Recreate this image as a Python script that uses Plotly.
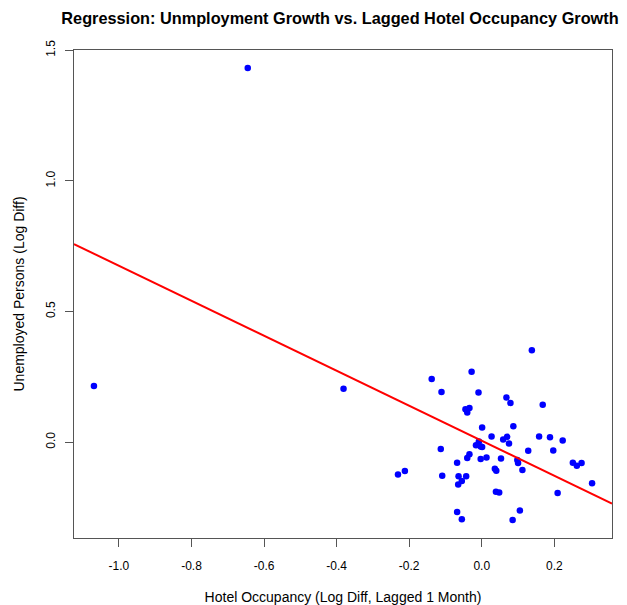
import plotly.graph_objects as go

# Hotel occupancy growth (log diff, lagged 1 month)
hotel_occ = [
    -1.069, -0.645, -0.381,
    0.138, -0.138, -0.028, -0.111, -0.009, 0.068, 0.079, 0.168, -0.045, -0.034,
    -0.040, 0.001, 0.087, 0.027, 0.059, 0.070, 0.075, 0.158, 0.188, 0.223,
    0.197, 0.128, -0.008, -0.016, -0.003, 0.001, -0.113, -0.034, -0.040,
    -0.003, 0.013, 0.053, 0.098, 0.100, -0.068, 0.036, 0.040, 0.112, 0.251,
    0.262, 0.275, 0.304, -0.231, -0.212, -0.109, -0.064, -0.043, -0.055,
    -0.065, 0.039, 0.048, 0.209, -0.068, 0.105, -0.055, 0.085,
]
# Unemployed persons growth (log diff)
unemployed = [
    0.215, 1.432, 0.204,
    0.352, 0.242, 0.269, 0.192, 0.190, 0.171, 0.150, 0.143, 0.126, 0.131,
    0.113, 0.056, 0.061, 0.021, 0.010, 0.020, -0.005, 0.021, 0.019, 0.006,
    -0.032, -0.033, 0.002, -0.012, -0.017, -0.019, -0.026, -0.047, -0.061,
    -0.065, -0.059, -0.063, -0.069, -0.080, -0.079, -0.102, -0.110, -0.107, -0.079,
    -0.091, -0.080, -0.158, -0.124, -0.111, -0.129, -0.131, -0.131, -0.149,
    -0.162, -0.190, -0.193, -0.195, -0.268, -0.262, -0.295, -0.298,
]
# Fitted regression coefficients
intercept = 0.005
slope = -0.67

x_ticks = [-1.0, -0.8, -0.6, -0.4, -0.2, 0.0, 0.2]
y_ticks = [0.0, 0.5, 1.0, 1.5]

x_min, x_max = min(hotel_occ), max(hotel_occ)
y_min, y_max = min(unemployed), max(unemployed)
xpad = 0.04 * (x_max - x_min)
ypad = 0.04 * (y_max - y_min)
x_range = [x_min - xpad, x_max + xpad]
y_range = [y_min - ypad, y_max + ypad]

fig = go.Figure()
fig.add_trace(go.Scatter(
    x=hotel_occ, y=unemployed, mode="markers",
    marker=dict(color="#0000FF", size=6.5, line=dict(width=0)),
    showlegend=False, hoverinfo="x+y",
))
fig.add_trace(go.Scatter(
    x=x_range, y=[intercept + slope * v for v in x_range], mode="lines",
    line=dict(color="#FF0000", width=2), showlegend=False, hoverinfo="skip",
))

W, H = 619, 597  # page body has an 8px margin
font = "Liberation Sans, Arial, Helvetica, sans-serif"
fig.update_layout(
    width=W, height=H,
    margin=dict(l=66, r=15, t=42, b=67, autoexpand=False),
    paper_bgcolor="white", plot_bgcolor="white",
    font=dict(family=font, size=12, color="black"),
    title=dict(
        text="<b>Regression: Unmployment Growth vs. Lagged Hotel Occupancy Growth</b>",
        x=332 / W, xanchor="center", y=1 - 10 / H, yanchor="middle",
        font=dict(size=16.3, family=font),
    ),
    xaxis=dict(
        range=x_range, tickvals=x_ticks, ticktext=[f"{v:.1f}" for v in x_ticks],
        showgrid=False, zeroline=False, showline=True, mirror=True,
        linecolor="#555555", linewidth=1, ticks="outside", ticklen=8,
        tickcolor="#555555", ticklabelstandoff=9, automargin=False,
        title=dict(text="Hotel Occupancy (Log Diff, Lagged 1 Month)", standoff=19),
    ),
    yaxis=dict(
        range=y_range, tickvals=y_ticks, ticktext=[f"{v:.1f}" for v in y_ticks],
        showgrid=False, zeroline=False, showline=True, mirror=True,
        linecolor="#555555", linewidth=1, ticks="outside", ticklen=8,
        tickcolor="#555555", tickangle=-90, ticklabelstandoff=5, automargin=False,
        title=dict(text="Unemployed Persons (Log Diff)", standoff=16),
    ),
)

fig.write_html("out.html")
